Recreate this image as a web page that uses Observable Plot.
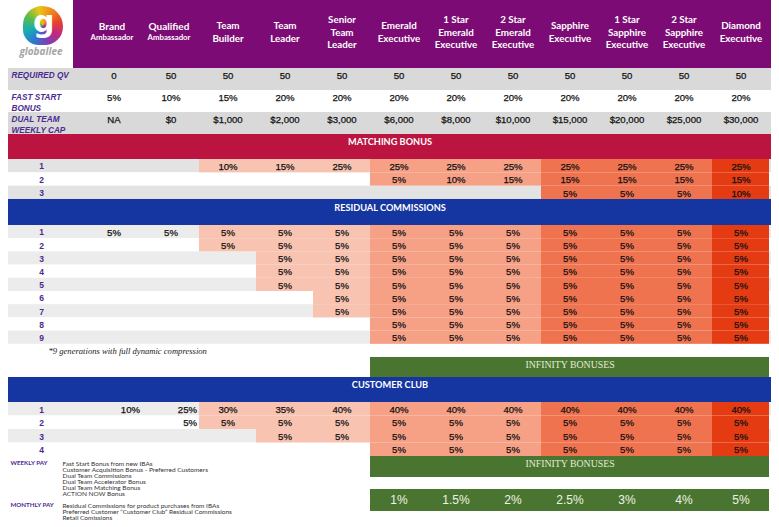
<!DOCTYPE html>
<html><head><meta charset="utf-8">
<script src="https://cdn.jsdelivr.net/npm/d3@7"></script>
<script src="https://cdn.jsdelivr.net/npm/@observablehq/plot@0.6"></script>
<style>
body{margin:0;background:#fff;}
#wrap{position:relative;width:779px;height:527px;overflow:hidden;background:#fff}
#logo{position:absolute;left:0;top:0;width:73px;height:68px;background:#fff}
#blob{position:absolute;left:23px;top:6px;width:40px;height:39px;border-radius:48% 52% 46% 40%;
 background:conic-gradient(from 210deg,#2b78d0,#17b0b0,#5dbb46,#e8c51a,#f18a1d,#e6452e,#c2287d,#7b40b3,#2b78d0);}
#gl{position:absolute;left:33px;top:4px;font:bold 30px "DejaVu Sans";color:#fff;}
#brand{position:absolute;left:0;width:82px;text-align:center;top:44px;font:italic 700 10px "Open Sans";color:#a5a5a5;}
</style></head><body>
<div id="wrap"><div id="chart"></div>
<div id="logo"><div id="blob"></div><div id="gl">g</div><div id="brand">globallee</div></div></div>
<script>
const _ = null;
const columns = ["Brand Ambassador","Qualified Ambassador","Team Builder","Team Leader","Senior Team Leader","Emerald Executive","1 Star Emerald Executive","2 Star Emerald Executive","Sapphire Executive","1 Star Sapphire Executive","2 Star Sapphire Executive","Diamond Executive"];
const headerLines = [["Brand","Ambassador"],["Qualified","Ambassador"],["Team","Builder"],["Team","Leader"],["Senior","Team","Leader"],["Emerald","Executive"],["1 Star","Emerald","Executive"],["2 Star","Emerald","Executive"],["Sapphire","Executive"],["1 Star","Sapphire","Executive"],["2 Star","Sapphire","Executive"],["Diamond","Executive"]];
const rowLabels = ["REQUIRED QV","FAST START\nBONUS","DUAL TEAM\nWEEKLY CAP"];
const requiredQV = ["0","50","50","50","50","50","50","50","50","50","50","50"];
const fastStart = ["5%","10%","15%","20%","20%","20%","20%","20%","20%","20%","20%","20%"];
const dualTeamCap = ["NA","$0","$1,000","$2,000","$3,000","$6,000","$8,000","$10,000","$15,000","$20,000","$25,000","$30,000"];
const sectionTitles = ["MATCHING BONUS","RESIDUAL COMMISSIONS","CUSTOMER CLUB"];
const matchingBonus = [
  [_,_,"10%","15%","25%","25%","25%","25%","25%","25%","25%","25%"],
  [_,_,_,_,_,"5%","10%","15%","15%","15%","15%","15%"],
  [_,_,_,_,_,_,_,_,"5%","5%","5%","10%"]
];
const residualCommissions = [
  ["5%","5%","5%","5%","5%","5%","5%","5%","5%","5%","5%","5%"],
  [_,_,"5%","5%","5%","5%","5%","5%","5%","5%","5%","5%"],
  [_,_,_,"5%","5%","5%","5%","5%","5%","5%","5%","5%"],
  [_,_,_,"5%","5%","5%","5%","5%","5%","5%","5%","5%"],
  [_,_,_,"5%","5%","5%","5%","5%","5%","5%","5%","5%"],
  [_,_,_,_,"5%","5%","5%","5%","5%","5%","5%","5%"],
  [_,_,_,_,"5%","5%","5%","5%","5%","5%","5%","5%"],
  [_,_,_,_,_,"5%","5%","5%","5%","5%","5%","5%"],
  [_,_,_,_,_,"5%","5%","5%","5%","5%","5%","5%"]
];
const customerClub = [
  ["10%","25%","30%","35%","40%","40%","40%","40%","40%","40%","40%","40%"],
  [_,"5%","5%","5%","5%","5%","5%","5%","5%","5%","5%","5%"],
  [_,_,_,"5%","5%","5%","5%","5%","5%","5%","5%","5%"],
  [_,_,_,_,_,"5%","5%","5%","5%","5%","5%","5%"]
];
const infinityTitle = "INFINITY BONUSES";
const infinityColumns = columns.slice(5);
const infinityBonuses = ["1%","1.5%","2%","2.5%","3%","4%","5%"];
const footnote = "*9 generations with full dynamic compression";
const weeklyPay = ["Fast Start Bonus from new IBAs","Customer Acquisition Bonus - Preferred Customers","Dual Team Commissions","Dual Team Accelerator Bonus","Dual Team Matching Bonus","ACTION NOW Bonus"];
const monthlyPay = ["Residual Commissions for product purchases from IBAs","Preferred Customer \u201cCustomer Club\u201d Residual Commissions","Retail Comissions"];

// ---- layout (row heights, px) ----
const layoutSpec = [["header",68],["qv",22],["fsb",22],["cap",22],["mbar",25],
  ...matchingBonus.map((d,i)=>["m"+i,13.33]),["rbar",26],
  ...residualCommissions.map((d,i)=>["r"+i,13.2]),["note",13.2],["inf1",20],["cbar",25],
  ...customerClub.map((d,i)=>["c"+i,13.5]),["inf2",21],["gap",12],["inf3",22]];
const L = {}; let acc = 0;
for (const [k,h] of layoutSpec) { L[k] = {top: acc, bottom: acc + h, mid: acc + h/2}; acc += h; }

const PURPLE = "#7c0b75", RED = "#bc1440", BLUE = "#1535a0", GREEN = "#4a7530";
const LABEL = "#4b2b90";
const tierColor = i => i < 2 ? null : i < 5 ? "#f8c4b1" : i < 8 ? "#f6a086" : i < 11 ? "#f07350" : "#e43b13";

const stripes = [
  {k:"qv",c:"#d9d9d9"},{k:"cap",c:"#d9d9d9"},
  ...matchingBonus.map((d,i)=>({k:"m"+i,c:i%2===0?"#e3e3e3":"#fff"})),
  ...residualCommissions.map((d,i)=>({k:"r"+i,c:i%2===0?"#ececec":"#fff"})),
  ...customerClub.map((d,i)=>({k:"c"+i,c:i%2===0?"#ececec":"#fff"}))
].map(s=>({y1:L[s.k].top,y2:L[s.k].bottom,fill:s.c}));

const bars = [
  {k:"header",fill:PURPLE},{k:"mbar",fill:RED},{k:"rbar",fill:BLUE},{k:"cbar",fill:BLUE}
].map(b=>({y1:L[b.k].top,y2:L[b.k].bottom,fill:b.fill}));

function cellsOf(matrix, prefix) {
  const out = [];
  matrix.forEach((row,r)=>row.forEach((v,i)=>{
    if (v!==null) out.push({col:columns[i], idx:i, v, y1:L[prefix+r].top, y2:L[prefix+r].bottom, y:L[prefix+r].mid+0.6, fill:tierColor(i)});
  }));
  return out;
}
const mCells = cellsOf(matchingBonus,"m"), rCells = cellsOf(residualCommissions,"r"), cCells = cellsOf(customerClub,"c");
const allCells = [...mCells, ...rCells, ...cCells];
const filled = allCells.filter(d=>d.fill);

const topVals = [["qv",requiredQV],["fsb",fastStart],["cap",dualTeamCap]].flatMap(([k,arr])=>arr.map((v,i)=>({col:columns[i],v,y:L[k].top+7.5})));

const genLabels = [
  ...matchingBonus.map((d,i)=>({t:String(i+1),y:L["m"+i].mid+0.6,st:"normal"})),
  ...residualCommissions.map((d,i)=>({t:String(i+1),y:L["r"+i].mid+0.6,st:"italic"})),
  ...customerClub.map((d,i)=>({t:String(i+1),y:L["c"+i].mid+0.6,st:"italic"}))
];

const infBars = [];
for (const k of ["inf1","inf2","inf3"]) infinityColumns.forEach(c=>infBars.push({col:c,y1:L[k].top,y2:L[k].bottom}));

const SANS = "Liberation Sans, Arial, sans-serif";
const HEAD = "Lato, Open Sans, sans-serif";
const VAL = {fill:"#111", stroke:"#111", strokeWidth:0.25, fontFamily:SANS, fontSize:9.6};

const hdrMulti = headerLines.map((l,i)=>({col:columns[i],t:l.join("\n"),i})).filter(d=>d.i>=2);
const hdrSmall = headerLines.map((l,i)=>({col:columns[i],a:l[0],b:l[1],i})).filter(d=>d.i<2);

const chart = Plot.plot({
  width: 779, height: 527,
  marginLeft: 8, marginRight: 8, marginTop: 0, marginBottom: 0,
  x: {type:"band", domain: columns, range:[82.2, 771], padding:0, axis:null},
  y: {domain:[0,527], range:[0,527], axis:null},
  color: {type:"identity"},
  marks: [
    Plot.rect(stripes, {y1:"y1", y2:"y2", fill:"fill"}),
    Plot.rect(bars, {y1:"y1", y2:"y2", fill:"fill"}),
    Plot.barY(filled, {x:"col", y1:"y1", y2:"y2", fill:"fill", inset:0}),
    Plot.barY(infBars, {x:"col", y1:"y1", y2:"y2", fill:GREEN, inset:0}),
    Plot.text(hdrMulti, {x:"col", y:L.header.mid-3, text:"t", fill:"#fff", fontFamily:HEAD, fontWeight:"bold", fontSize:9.8, lineHeight:1.28, lineAnchor:"middle"}),
    Plot.text(hdrSmall, {x:"col", y:L.header.mid-8, text:"a", fill:"#fff", fontFamily:HEAD, fontWeight:"bold", fontSize:10, dx:-2}),
    Plot.text(hdrSmall, {x:"col", y:L.header.mid+2.5, text:"b", fill:"#fff", fontFamily:HEAD, fontWeight:"bold", fontSize:7.8, dx:-2}),
    Plot.text(rowLabels.map((t,i)=>({t,y:L[["qv","fsb","cap"][i]].top+1.5})), {y:"y", text:"t", frameAnchor:"left", textAnchor:"start", dx:3, lineAnchor:"top", lineHeight:1.35, fill:LABEL, fontFamily:"Liberation Sans Narrow, Liberation Sans, sans-serif", fontWeight:"bold", fontStyle:"italic", fontSize:8.2}),
    Plot.text(topVals, {x:"col", y:"y", text:"v", ...VAL}),
    Plot.text([{t:sectionTitles[0],y:L.mbar.top+8},{t:sectionTitles[1],y:L.rbar.top+8.5},{t:sectionTitles[2],y:L.cbar.top+8}], {y:"y", text:"t", frameAnchor:"middle", fill:"#fff", fontFamily:HEAD, fontWeight:"bold", fontSize:9.2}),
    Plot.text(genLabels, {y:"y", text:"t", frameAnchor:"left", textAnchor:"middle", dx:33, fill:LABEL, fontFamily:SANS, fontWeight:"bold", fontStyle:d=>d.st, fontSize:8.5}),
    Plot.text(allCells.filter(d=>!(d.idx<2 && cCells.includes(d))), {x:"col", y:"y", text:"v", ...VAL}),
    Plot.text(cCells.filter(d=>d.idx<2), {x:"col", y:"y", text:"v", textAnchor:"end", dx:26, ...VAL}),
    Plot.text([footnote], {y:L.note.mid, text:d=>d, frameAnchor:"left", textAnchor:"start", dx:40, fill:"#222", fontFamily:"Liberation Serif, serif", fontStyle:"italic", fontSize:8.6}),
    Plot.text([{y:L.inf1.top+7},{y:L.inf2.top+7.5}], {x:()=>columns[8], y:"y", text:()=>infinityTitle, fill:"#e4ecd6", fontFamily:"Liberation Serif, serif", fontSize:9.8}),
    Plot.text(infinityBonuses.map((v,i)=>({v,col:infinityColumns[i]})), {x:"col", y:L.inf3.mid-0.5, text:"v", fill:"#eef3e6", fontFamily:SANS, fontSize:12}),
    Plot.text(["WEEKLY PAY"], {y:L.inf2.top+7, text:d=>d, frameAnchor:"left", textAnchor:"start", dx:2, fill:LABEL, fontFamily:HEAD, fontWeight:"bold", fontSize:6.2}),
    Plot.text(weeklyPay.map((t,i)=>({t,i})), {y:d=>L.inf2.top+7+d.i*6, text:"t", frameAnchor:"left", textAnchor:"start", dx:54, fill:"#333", fontFamily:HEAD, fontSize:6.5}),
    Plot.text(["MONTHLY PAY"], {y:L.inf3.top+16, text:d=>d, frameAnchor:"left", textAnchor:"start", dx:2, fill:LABEL, fontFamily:HEAD, fontWeight:"bold", fontSize:6.2}),
    Plot.text(monthlyPay.map((t,i)=>({t,i})), {y:d=>L.inf3.top+16+d.i*6, text:"t", frameAnchor:"left", textAnchor:"start", dx:54, fill:"#333", fontFamily:HEAD, fontSize:6.5})
  ]
});
document.getElementById("chart").appendChild(chart);
</script>
</body></html>
